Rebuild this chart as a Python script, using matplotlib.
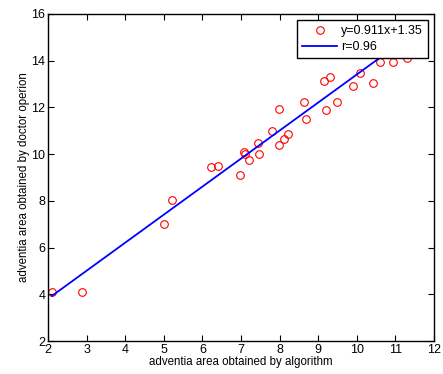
import matplotlib
matplotlib.use('Agg')
import matplotlib.pyplot as plt

plt.rcParams['font.family'] = ['Liberation Sans', 'DejaVu Sans']

# points
algo = [2.11, 2.87, 5.01, 5.20, 6.21, 6.41, 6.97, 7.07, 7.10, 7.21,
        7.44, 7.47, 7.79, 7.99, 7.99, 8.11, 8.21, 8.64, 8.68, 9.14,
        9.31, 9.19, 9.48, 9.91, 10.07, 10.42, 10.60, 10.95, 11.29]
doctor = [4.10, 4.10, 7.01, 8.04, 9.44, 9.48, 9.11, 10.09, 10.00, 9.75,
          10.46, 10.00, 11.00, 11.93, 10.40, 10.63, 10.88, 12.22, 11.52, 13.12,
          13.29, 11.89, 12.22, 12.92, 13.49, 13.05, 13.93, 13.93, 14.10]

# fitted line as drawn
fit_x = [2.1, 11.3]
fit_y = [3.93, 14.97]

fig = plt.figure(figsize=(4.43, 3.74), dpi=100)
ax = fig.add_axes([0.1084, 0.0882, 0.8713, 0.8744])

ax.plot(algo, doctor, 'o', mfc='none', mec='red', ms=5.5, mew=0.8,
        label='y=0.911x+1.35')
ax.plot(fit_x, fit_y, '-', color='blue', lw=1.3, label='r=0.96')

ax.set_xlim(2, 12)
ax.set_ylim(2, 16)
ax.set_xticks(range(2, 13))
ax.set_yticks(range(2, 17, 2))
ax.tick_params(direction='in', top=True, right=True, labelsize=9, length=4, pad=2)
for s in ax.spines.values():
    s.set_linewidth(1.0)

ax.set_xlabel('adventia area obtained by algorithm', fontsize=8.3, labelpad=0)
ax.set_ylabel('adventia area obtained by doctor operion', fontsize=8.3, labelpad=1)

leg = ax.legend(loc='upper right', fontsize=9, fancybox=False, framealpha=1,
                edgecolor='black', borderaxespad=0.5, handlelength=2.8,
                handletextpad=0.3, borderpad=0.4, labelspacing=0.3)
leg.get_frame().set_linewidth(1.0)

plt.savefig('out.png', dpi=100)
